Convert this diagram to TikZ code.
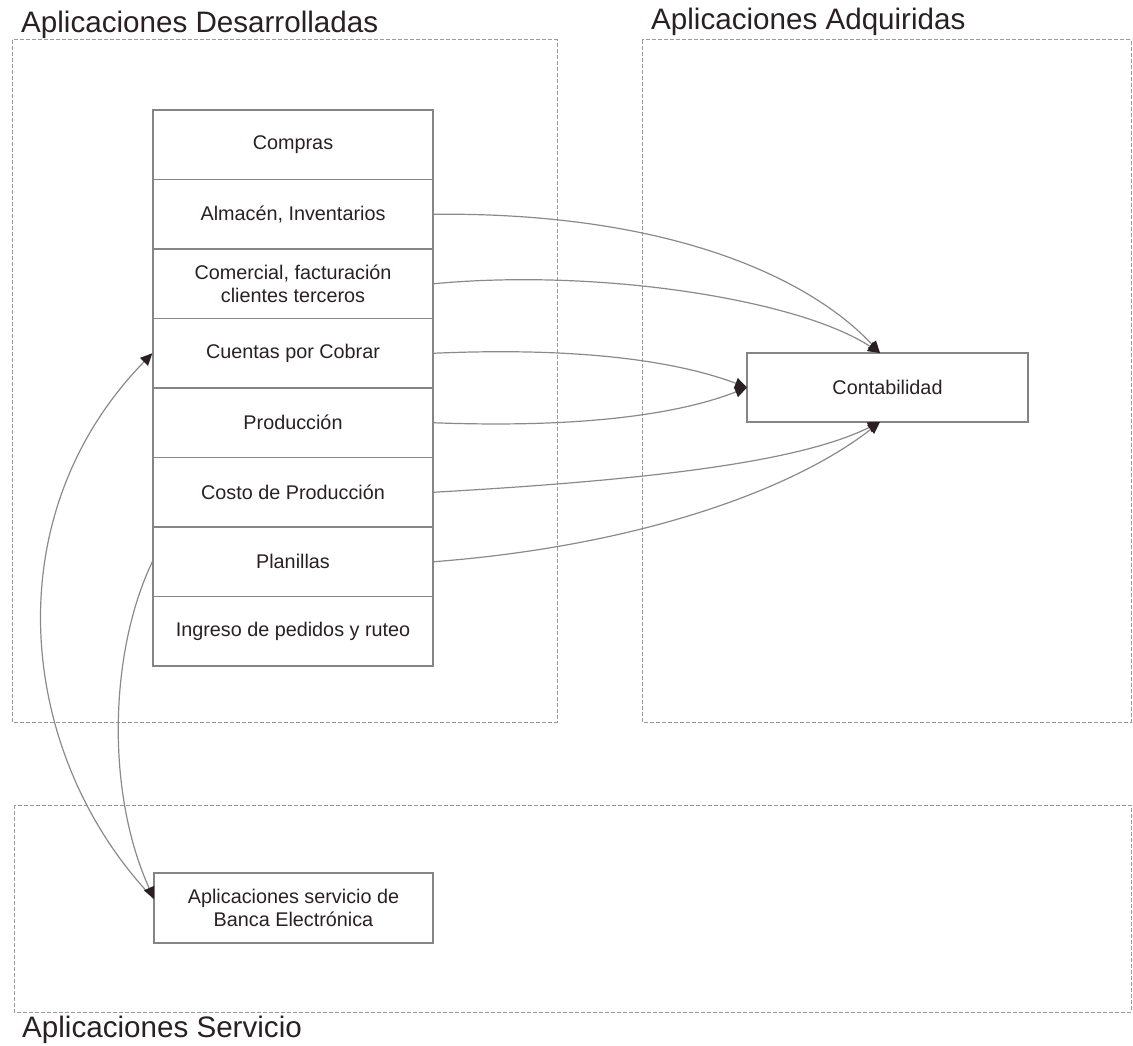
\documentclass[tikz,border=0pt]{standalone}
\usepackage{fontspec}
\setmainfont{Liberation Sans}
\usetikzlibrary{arrows.meta}
\definecolor{ink}{HTML}{2A2023}
\definecolor{boxline}{HTML}{858585}
\definecolor{dashline}{HTML}{9A9A9A}
\definecolor{wire}{HTML}{8A8A8A}
\tikzset{
  group/.style={draw=dashline, line width=1pt, dash pattern=on 4pt off 2pt},
  grouptitle/.style={anchor=base west, inner sep=0pt, text=ink, font=\fontsize{29.6}{32}\selectfont},
  module/.style={draw=boxline, line width=1.3pt, minimum width=280pt, minimum height=69.5pt,
    inner sep=0pt, align=center, text=ink, font=\fontsize{19.8}{22.5}\selectfont},
  link/.style={draw=wire, line width=1.2pt,
    -{Triangle[length=12pt,width=11pt,fill=ink,color=ink]}}
}
\begin{document}
\begin{tikzpicture}[x=1pt,y=-1pt]
\useasboundingbox (0,0) rectangle (1133,1046);

% group frames
\draw[group] (12,40) rectangle (557,722);
\draw[group] (642,40) rectangle (1131,722);
\draw[group] (14,805) rectangle (1131,1012);
\node[grouptitle] (tdes) at (21,33) {Aplicaciones Desarrolladas};
\node[grouptitle] (tadq) at (651,30) {Aplicaciones Adquiridas};
\node[grouptitle] (tser) at (22,1037) {Aplicaciones Servicio};

% developed applications stack
\node[module] (compras) at (293,144.75) {Compras};
\node[module] (almacen) at (293,214.25) {Almacén, Inventarios};
\node[module] (comercial) at (293,283.75) {Comercial, facturación\\clientes terceros};
\node[module] (cuentas) at (293,353.25) {Cuentas por Cobrar};
\node[module] (produccion) at (293,422.75) {Producción};
\node[module] (costo) at (293,492.25) {Costo de Producción};
\node[module] (planillas) at (293,561.75) {Planillas};
\node[module] (ingreso) at (293,631.25) {Ingreso de pedidos y ruteo};

% acquired and service applications
\node[module, minimum width=281pt, minimum height=69pt] (conta) at (887.5,387.5) {Contabilidad};
\node[module, minimum width=279pt, minimum height=70pt] (banca) at (293.5,908) {Aplicaciones servicio de\\Banca Electrónica};

% anchor points on the boxes
\coordinate (ctop) at (880,353);
\coordinate (cbot) at (880,422);
\coordinate (cleft) at (747,387.5);
\coordinate (bin) at (154,899);

% links to accounting
\draw[link] (almacen.east) .. controls (670,212) and (810,278) .. (ctop);
\draw[link] (comercial.east) .. controls (600,268) and (800,300) .. (ctop);
\draw[link] (cuentas.east) .. controls (600,346) and (690,366) .. (cleft);
\draw[link] (produccion.east) .. controls (600,429) and (690,410) .. (cleft);
\draw[link] (costo.east) .. controls (650,480) and (800,462) .. (cbot);
\draw[link] (planillas.east) .. controls (650,545) and (800,485) .. (cbot);

% links with electronic banking
\draw[link] (bin) .. controls (20,760) and (-10,520) .. (cuentas.west);
\draw[link] (planillas.west) .. controls (110,650) and (105,790) .. (bin);
\end{tikzpicture}
\end{document}
